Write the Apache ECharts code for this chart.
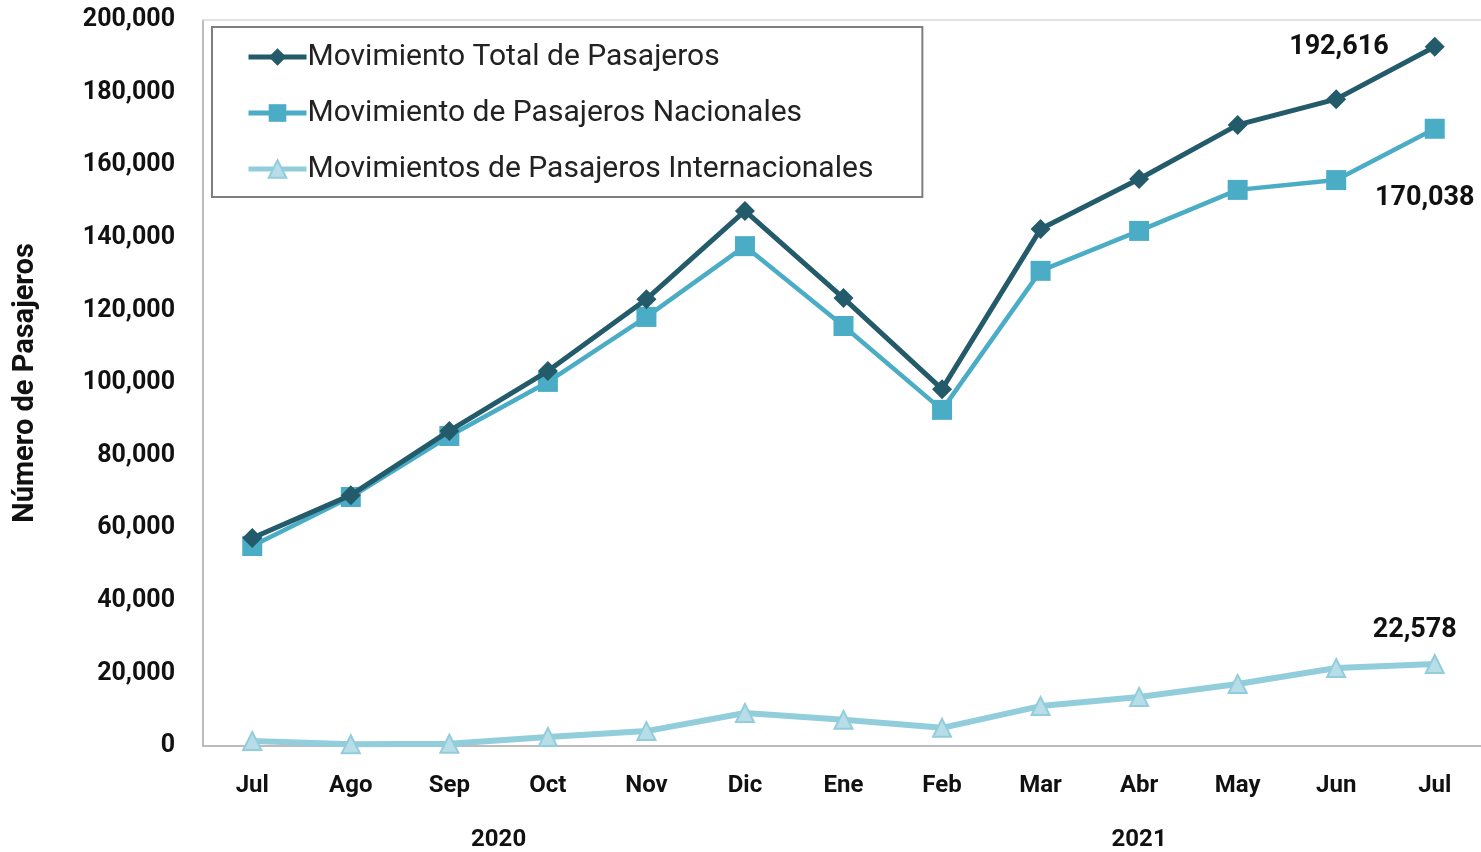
<!DOCTYPE html>
<html lang="es">
<head>
  <meta charset="UTF-8">
  <title>Movimiento de Pasajeros</title>
  <script src="https://cdn.jsdelivr.net/npm/echarts@6/dist/echarts.min.js"></script>
  <style>
    html, body { margin: 0; padding: 0; background: #fff; }
  </style>
</head>
<body>
  <div id="chart" style="width:1481px;height:852px;"></div>

  <script>
    // meses (jul 2020 - jul 2021)
    var meses = ['Jul', 'Ago', 'Sep', 'Oct', 'Nov', 'Dic', 'Ene', 'Feb', 'Mar', 'Abr', 'May', 'Jun', 'Jul'];
    // años: posicion central en el eje de meses
    var anios = ['2020', '2021'];
    var aniosPos = [2.5, 9];

    var total = [57300, 69100, 86800, 103300, 123100, 147400, 123400, 98300, 142400, 156200, 171100, 178200, 192616];
    var nacionales = [55100, 68600, 85400, 100300, 118200, 137700, 115700, 92600, 130900, 141900, 153200, 155900, 170038];
    var internacionales = [1400, 500, 600, 2500, 4100, 9100, 7200, 5000, 11000, 13500, 17100, 21500, 22578];

    var yTicks = [0, 20000, 40000, 60000, 80000, 100000, 120000, 140000, 160000, 180000, 200000];

    var fuente = 'Roboto';
    var colTotal = '#235b6b';
    var colNac = '#4bacc6';
    var colInt = '#92cddc';

    function fmt(v) {
      return v.toString().replace(/\B(?=(\d{3})+(?!\d))/g, ',');
    }

    // solo el ultimo punto lleva etiqueta
    function conEtiqueta(arr, label) {
      return arr.map(function (v, i) {
        if (i === arr.length - 1) {
          return { value: v, label: label };
        }
        return v;
      });
    }

    var myChart = echarts.init(document.getElementById('chart'));

    var etiqueta = {
      show: true,
      fontFamily: fuente,
      fontWeight: 'bold',
      fontSize: 27,
      color: '#111',
      formatter: function (p) { return fmt(p.value); }
    };

    var option = {
      animation: false,
      grid: { left: 203, right: -3, top: 20, bottom: 106, outerBoundsMode: 'none' },
      legend: {
        orient: 'vertical',
        left: 212,
        top: 27,
        padding: [15, 49, 13, 34],
        borderColor: '#7f7f7f',
        borderWidth: 2,
        itemWidth: 58,
        itemHeight: 22,
        itemGap: 26,
        lineStyle: { width: 5 },
        textStyle: {
          fontFamily: fuente,
          fontSize: 30,
          lineHeight: 30,
          color: '#222',
          padding: [0, 0, 0, -4]
        },
        data: ['Movimiento Total de Pasajeros', 'Movimiento de Pasajeros Nacionales', 'Movimientos de Pasajeros Internacionales']
      },
      xAxis: [
        {
          type: 'category',
          data: meses,
          axisLine: { lineStyle: { color: '#a6a6a6', width: 1.5 } },
          axisTick: { show: false },
          axisLabel: {
            margin: 28,
            fontFamily: fuente,
            fontWeight: 'bold',
            fontSize: 24,
            color: '#111'
          }
        },
        {
          type: 'value',
          position: 'bottom',
          min: -0.5,
          max: 12.5,
          interval: 0.5,
          axisLine: { show: false },
          axisTick: { show: false },
          splitLine: { show: false },
          axisLabel: {
            margin: 82,
            fontFamily: fuente,
            fontWeight: 'bold',
            fontSize: 24,
            color: '#111',
            showMinLabel: true,
            showMaxLabel: true,
            formatter: function (v) {
              var k = aniosPos.indexOf(v);
              return k >= 0 ? anios[k] : '';
            }
          }
        },
        {
          type: 'category',
          position: 'top',
          data: meses,
          axisLine: { lineStyle: { color: '#d9d9d9', width: 1.5 } },
          axisTick: { show: false },
          axisLabel: { show: false }
        }
      ],
      yAxis: {
        type: 'value',
        min: yTicks[0],
        max: yTicks[yTicks.length - 1],
        interval: yTicks[1] - yTicks[0],
        name: 'Número de Pasajeros',
        nameLocation: 'middle',
        nameRotate: 90,
        nameGap: 163,
        nameTextStyle: {
          fontFamily: fuente,
          fontWeight: 'bold',
          fontSize: 29,
          color: '#111'
        },
        axisLine: { show: true, onZero: false, lineStyle: { color: '#a6a6a6', width: 1.5 } },
        axisTick: { show: false },
        splitLine: { show: false },
        axisLabel: {
          margin: 28,
          fontFamily: fuente,
          fontWeight: 'bold',
          fontSize: 25,
          color: '#111',
          formatter: function (v) { return fmt(v); }
        }
      },
      series: [
        {
          name: 'Movimiento Total de Pasajeros',
          type: 'line',
          xAxisIndex: 0,
          data: conEtiqueta(total, Object.assign({}, etiqueta, { position: 'left', distance: 36 })),
          symbol: 'diamond',
          symbolSize: 20,
          lineStyle: { color: colTotal, width: 5 },
          itemStyle: { color: colTotal },
          z: 3
        },
        {
          name: 'Movimiento de Pasajeros Nacionales',
          type: 'line',
          xAxisIndex: 0,
          data: conEtiqueta(nacionales, Object.assign({}, etiqueta, { position: 'bottom', distance: 46, offset: [-10, 0] })),
          symbol: 'rect',
          symbolSize: 20,
          lineStyle: { color: colNac, width: 4.5 },
          itemStyle: { color: colNac },
          z: 2
        },
        {
          name: 'Movimientos de Pasajeros Internacionales',
          type: 'line',
          xAxisIndex: 0,
          data: conEtiqueta(internacionales, Object.assign({}, etiqueta, { position: 'top', distance: 10, offset: [-20, 0] })),
          symbol: 'triangle',
          symbolSize: 18,
          lineStyle: { color: colInt, width: 6 },
          itemStyle: { color: '#b7dee8', borderColor: colInt, borderWidth: 2 },
          z: 1
        }
      ]
    };

    myChart.setOption(option);
  </script>
</body>
</html>
